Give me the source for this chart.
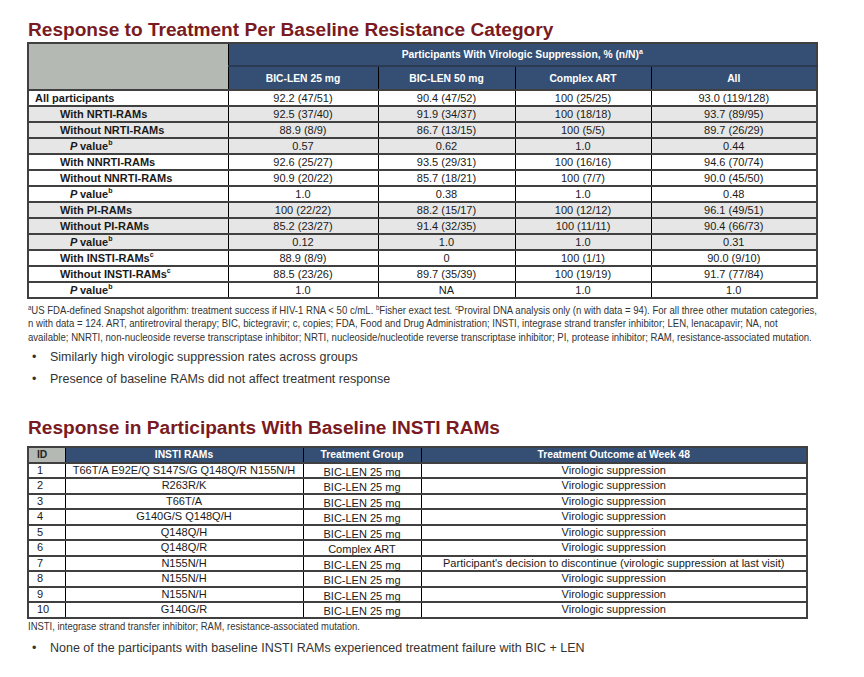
import React, { useLayoutEffect, useRef, useState } from "react";

const title1 = "Response to Treatment Per Baseline Resistance Category";
const title2 = "Response in Participants With Baseline INSTI RAMs";
const groupHeader = "Participants With Virologic Suppression, % (n/N)";
const columns = ["BIC-LEN 25 mg", "BIC-LEN 50 mg", "Complex ART", "All"];

type RowDef = { label: string; sup?: string; level: number; italicP?: boolean; shade: boolean };
const rowLabels: RowDef[] = [
  { label: "All participants", level: 0, shade: false },
  { label: "With NRTI-RAMs", level: 1, shade: true },
  { label: "Without NRTI-RAMs", level: 1, shade: true },
  { label: "value", sup: "b", level: 2, italicP: true, shade: true },
  { label: "With NNRTI-RAMs", level: 1, shade: false },
  { label: "Without NNRTI-RAMs", level: 1, shade: false },
  { label: "value", sup: "b", level: 2, italicP: true, shade: false },
  { label: "With PI-RAMs", level: 1, shade: true },
  { label: "Without PI-RAMs", level: 1, shade: true },
  { label: "value", sup: "b", level: 2, italicP: true, shade: true },
  { label: "With INSTI-RAMs", sup: "c", level: 1, shade: false },
  { label: "Without INSTI-RAMs", sup: "c", level: 1, shade: false },
  { label: "value", sup: "b", level: 2, italicP: true, shade: false },
];
const bicLen25 = ["92.2 (47/51)", "92.5 (37/40)", "88.9 (8/9)", "0.57", "92.6 (25/27)", "90.9 (20/22)", "1.0", "100 (22/22)", "85.2 (23/27)", "0.12", "88.9 (8/9)", "88.5 (23/26)", "1.0"];
const bicLen50 = ["90.4 (47/52)", "91.9 (34/37)", "86.7 (13/15)", "0.62", "93.5 (29/31)", "85.7 (18/21)", "0.38", "88.2 (15/17)", "91.4 (32/35)", "1.0", "0", "89.7 (35/39)", "NA"];
const complexArt = ["100 (25/25)", "100 (18/18)", "100 (5/5)", "1.0", "100 (16/16)", "100 (7/7)", "1.0", "100 (12/12)", "100 (11/11)", "1.0", "100 (1/1)", "100 (19/19)", "1.0"];
const allCol = ["93.0 (119/128)", "93.7 (89/95)", "89.7 (26/29)", "0.44", "94.6 (70/74)", "90.0 (45/50)", "0.48", "96.1 (49/51)", "90.4 (66/73)", "0.31", "90.0 (9/10)", "91.7 (77/84)", "1.0"];

// footnote lines: [superscript, text] segments per line
const footnoteLines: [string, string][][] = [
  [["a", "US FDA-defined Snapshot algorithm: treatment success if HIV-1 RNA < 50 c/mL. "], ["b", "Fisher exact test. "], ["c", "Proviral DNA analysis only (n with data = 94). For all three other mutation categories,"]],
  [["", "n with data = 124. ART, antiretroviral therapy; BIC, bictegravir; c, copies; FDA, Food and Drug Administration; INSTI, integrase strand transfer inhibitor; LEN, lenacapavir; NA, not"]],
  [["", "available; NNRTI, non-nucleoside reverse transcriptase inhibitor; NRTI, nucleoside/nucleotide reverse transcriptase inhibitor; PI, protease inhibitor; RAM, resistance-associated mutation."]],
];
const bullets1 = ["Similarly high virologic suppression rates across groups", "Presence of baseline RAMs did not affect treatment response"];

const t2Headers = ["ID", "INSTI RAMs", "Treatment Group", "Treatment Outcome at Week 48"];
const ids = ["1", "2", "3", "4", "5", "6", "7", "8", "9", "10"];
const instiRams = ["T66T/A E92E/Q S147S/G Q148Q/R N155N/H", "R263R/K", "T66T/A", "G140G/S Q148Q/H", "Q148Q/H", "Q148Q/R", "N155N/H", "N155N/H", "N155N/H", "G140G/R"];
const groups = ["BIC-LEN 25 mg", "BIC-LEN 25 mg", "BIC-LEN 25 mg", "BIC-LEN 25 mg", "BIC-LEN 25 mg", "Complex ART", "BIC-LEN 25 mg", "BIC-LEN 25 mg", "BIC-LEN 25 mg", "BIC-LEN 25 mg"];
const outcomes = ["Virologic suppression", "Virologic suppression", "Virologic suppression", "Virologic suppression", "Virologic suppression", "Virologic suppression", "Participant's decision to discontinue (virologic suppression at last visit)", "Virologic suppression", "Virologic suppression", "Virologic suppression"];
const footnote2 = "INSTI, integrase strand transfer inhibitor; RAM, resistance-associated mutation.";
const bullets2 = ["None of the participants with baseline INSTI RAMs experienced treatment failure with BIC + LEN"];

const FONT = '"Liberation Sans", Arial, Helvetica, sans-serif';
const RED = "#7a1a22";
const BLUE = "#344f73";
const GRAY_HDR = "#b5b9b4";
const SHADE = "#e6e6e6";
const ROWLINE = "#404040";

function Footnote() {
  const ref = useRef<HTMLSpanElement>(null);
  const [scale, setScale] = useState(0.9);
  useLayoutEffect(() => {
    if (ref.current) {
      const w = ref.current.offsetWidth;
      if (w > 0) setScale(789 / w);
    }
  }, []);
  return (
    <div style={{ position: "absolute", left: 20, top: 296, color: "#333", width: 800 }}>
      {footnoteLines.map((segs, li) => (
        <div key={li} style={{ height: 13.3, lineHeight: "13px", whiteSpace: "nowrap", fontSize: 10.5, transform: `scaleX(${scale})`, transformOrigin: "0 0" }}>
          <span ref={li === 0 ? ref : undefined} style={{ display: "inline-block" }}>
            {segs.map(([s, t], k) => (
              <React.Fragment key={k}>
                {s ? <sup style={{ fontSize: 6.5, lineHeight: 0 }}>{s}</sup> : null}
                {t}
              </React.Fragment>
            ))}
          </span>
        </div>
      ))}
    </div>
  );
}

export default function App() {
  const col1W = [200, 150, 137, 136, 166];
  const vLine = "1px solid #000";
  const hLine = `2px solid ${ROWLINE}`;
  const cellBase: React.CSSProperties = { padding: 0, height: 14, lineHeight: "14px", fontSize: 11, textAlign: "center", color: "#1a1a1a" };
  const hdr: React.CSSProperties = { background: BLUE, color: "#fff", fontWeight: "bold", fontSize: 10.3, textAlign: "center", padding: 0 };
  return (
    <div style={{ position: "relative", width: 848, height: 661, fontFamily: FONT, background: "#fff", margin: 0 }}>
      <div style={{ position: "absolute", left: 20, top: 11, fontSize: 19.1, fontWeight: "bold", color: RED, whiteSpace: "nowrap" }}>{title1}</div>

      <table style={{ position: "absolute", left: 19, top: 34, borderCollapse: "collapse", tableLayout: "fixed", width: 789, border: "2px solid #404040" }}>
        <colgroup>
          {col1W.map((w, i) => <col key={i} style={{ width: w }} />)}
        </colgroup>
        <tbody>
          <tr>
            <td rowSpan={2} style={{ background: GRAY_HDR, borderRight: vLine, borderBottom: hLine, padding: 0 }} />
            <td colSpan={4} style={{ ...hdr, height: 21, borderBottom: "2px solid #2a3a52" }}>
              {groupHeader}<sup style={{ fontSize: 7, lineHeight: 0 }}>a</sup>
            </td>
          </tr>
          <tr>
            {columns.map((c, i) => (
              <td key={i} style={{ ...hdr, height: 22, borderRight: i < 3 ? vLine : undefined, borderBottom: hLine }}>{c}</td>
            ))}
          </tr>
          {rowLabels.map((r, i) => {
            const bg = r.shade ? SHADE : "#fff";
            const vals = [bicLen25[i], bicLen50[i], complexArt[i], allCol[i]];
            return (
              <tr key={i} style={{ background: bg }}>
                <td style={{ ...cellBase, textAlign: "left", fontWeight: "bold", paddingLeft: r.level === 0 ? 6 : r.level === 1 ? 31 : 41, borderRight: vLine, borderBottom: hLine }}>
                  {r.italicP ? <i>P </i> : null}
                  {r.label}
                  {r.sup ? <sup style={{ fontSize: 7, lineHeight: 0 }}>{r.sup}</sup> : null}
                </td>
                {vals.map((v, j) => (
                  <td key={j} style={{ ...cellBase, borderRight: j < 3 ? vLine : undefined, borderBottom: hLine }}>{v}</td>
                ))}
              </tr>
            );
          })}
        </tbody>
      </table>

      <Footnote />

      {bullets1.map((b, i) => (
        <div key={i} style={{ position: "absolute", left: 24, top: 342 + i * 21.5, fontSize: 12.5, color: "#333", whiteSpace: "nowrap" }}>
          <span style={{ display: "inline-block", width: 18 }}>•</span>{b}
        </div>
      ))}

      <div style={{ position: "absolute", left: 20, top: 409, fontSize: 19.1, fontWeight: "bold", color: RED, whiteSpace: "nowrap" }}>{title2}</div>

      <table style={{ position: "absolute", left: 19, top: 438, borderCollapse: "collapse", tableLayout: "fixed", width: 779, border: "2px solid #404040" }}>
        <colgroup>
          <col style={{ width: 37 }} />
          <col style={{ width: 238 }} />
          <col style={{ width: 118 }} />
          <col style={{ width: 386 }} />
        </colgroup>
        <tbody>
          <tr>
            {t2Headers.map((h, i) => (
              <td key={i} style={{ background: i === 0 ? GRAY_HDR : BLUE, color: i === 0 ? "#222" : "#fff", fontWeight: "bold", fontSize: 10.3, height: 13.5, lineHeight: "13.5px", padding: 0, paddingLeft: i === 0 ? 8 : 0, textAlign: i === 0 ? "left" : "center", borderRight: i < 3 ? vLine : undefined, borderBottom: hLine }}>{h}</td>
            ))}
          </tr>
          {ids.map((id, i) => {
            const vals = [id, instiRams[i], groups[i], outcomes[i]];
            return (
              <tr key={i}>
                {vals.map((v, j) => (
                  <td key={j} style={{ ...cellBase, height: 13.55, lineHeight: "13.55px", textAlign: j === 0 ? "left" : "center", paddingLeft: j === 0 ? 8 : 0, borderRight: j < 3 ? vLine : undefined, borderBottom: hLine }}>
                    {j === 2 ? <span style={{ position: "relative", top: 2 }}>{v}</span> : v}
                  </td>
                ))}
              </tr>
            );
          })}
        </tbody>
      </table>

      <div style={{ position: "absolute", left: 20, top: 612, fontSize: 10.5, color: "#333", whiteSpace: "nowrap", transform: "scaleX(0.9)", transformOrigin: "0 0" }}>{footnote2}</div>

      {bullets2.map((b, i) => (
        <div key={i} style={{ position: "absolute", left: 24, top: 633, fontSize: 12.5, color: "#333", whiteSpace: "nowrap" }}>
          <span style={{ display: "inline-block", width: 18 }}>•</span>{b}
        </div>
      ))}
    </div>
  );
}
